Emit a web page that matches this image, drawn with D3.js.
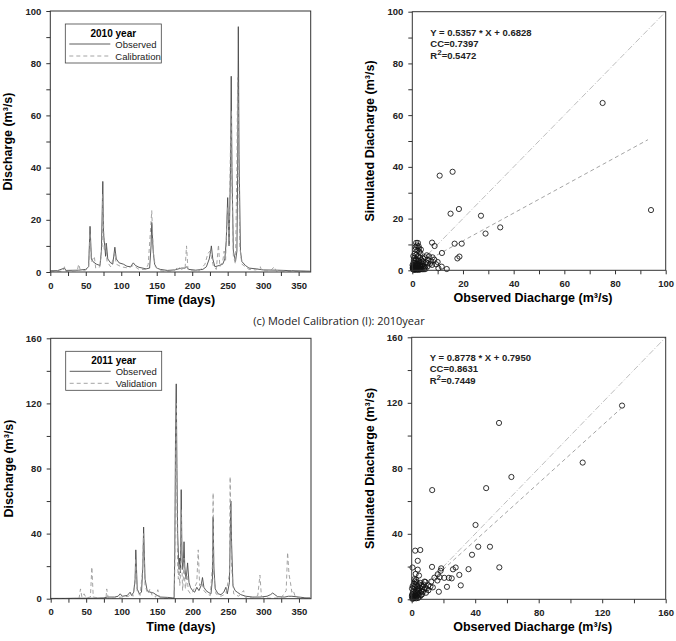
<!DOCTYPE html>
<html>
<head>
<meta charset="utf-8">
<script src="https://cdn.jsdelivr.net/npm/d3@7"></script>
<style>
  body { margin: 0; background: #fff; }
  svg { display: block; }
  text { font-family: "Liberation Sans", Arial, sans-serif; }
</style>
</head>
<body>
<svg id="chart" width="676" height="641"></svg>
<script>
// 2010 daily discharge, [day, m3/s]
var observed2010 = [[0,0.5],[10,0.5],[20,1.5],[22,0.6],[40,0.7],[50,1],[54,2],[56,17.5],[58,5],[60,4],[65,3],[70,2.5],[72,8],[74,34.7],[75,15],[76,12],[78,6],[79,11],[81,5],[85,3.5],[88,3],[91,9.5],[93,5],[97,3.5],[103,3],[108,2.2],[113,2],[117,3.5],[120,2.5],[125,1.8],[135,1.2],[140,1.5],[142,10],[143,19],[145,8],[147,3],[150,1.5],[155,1],[165,0.6],[175,0.8],[185,1.5],[190,1.5],[192,2],[195,1],[205,0.7],[215,1],[220,2],[224,5],[226,8],[227,10],[229,5],[232,2],[238,2.5],[243,3],[246,5],[248,12],[250,28.5],[252,10],[254,40],[255,75],[256,40],[258,8],[261,4],[263,8],[264,37],[265,94],[266,45],[268,8],[270,4],[275,2.5],[280,1.5],[290,1.2],[300,0.8],[320,0.7],[340,0.5],[366,0.3]];
var calibration2010 = [[0,0.3],[18,0.3],[20,2],[22,0.3],[38,0.5],[40,3],[42,1],[48,0.5],[54,1.5],[56,15],[58,4],[62,6],[64,1.5],[70,2],[73,10],[74,30],[76,8],[78,11],[80,4],[85,2],[91,7],[93,3],[100,2],[110,1.5],[117,2.5],[125,1],[135,1],[138,3],[141,15],[143,23.5],[145,8],[148,2],[155,0.5],[165,0.3],[175,0.5],[180,2],[185,1],[190,1.5],[192,10],[194,1],[200,0.5],[210,0.5],[218,3],[222,7],[225,8],[227,6],[230,2],[234,1],[237,10.5],[239,2],[243,4],[245,8],[247,4],[249,20],[250,25],[252,10],[254,50],[255,62],[256,35],[258,6],[261,3],[263,40],[264,74.5],[265,60],[267,10],[270,3],[275,2],[280,1],[290,0.8],[296,2],[298,0.5],[310,0.5],[316,2],[318,0.4],[340,0.3],[366,0.2]];

// 2011 daily discharge, [day, m3/s]
var observed2011 = [[0,0.2],[20,0.2],[40,0.3],[60,0.3],[75,0.5],[80,1],[90,1],[95,1.5],[98,3],[101,1.5],[108,2],[112,4],[114,2],[117,4],[119,12],[120,30],[122,6],[125,3],[128,4],[130,20],[131,44],[133,12],[136,5],[140,4],[145,3.5],[150,2],[155,1],[165,0.8],[172,0.5],[174,0.5],[175,30],[176,100],[177,132],[178,80],[179,40],[180,28],[181,18],[182,25],[183,16],[184,67],[185,30],[186,18],[187,22],[188,35],[189,20],[190,15],[191,12],[193,22],[195,10],[197,7],[200,5],[203,4],[206,7],[209,5],[212,8],[214,13],[216,7],[219,5],[222,4],[226,3],[228,12],[229,50],[230,20],[232,6],[236,3],[240,2.5],[244,4],[247,7],[249,3],[252,10],[254,60],[255,35],[257,8],[260,5],[263,4],[268,2.5],[275,1.5],[285,1],[295,1],[305,1.5],[310,2.5],[313,3.5],[316,2.5],[320,1.2],[330,1],[335,1.5],[340,1.5],[350,1],[360,0.5],[366,0.5]];
var validation2011 = [[0,0],[40,0.2],[42,6],[44,1],[47,3],[50,0.5],[56,1],[58,19.5],[60,1],[70,0.3],[78,0.5],[79,6],[81,0.5],[90,0.5],[100,1],[110,1.5],[113,3],[116,1.5],[119,10],[120,25],[122,4],[126,2],[129,15],[131,40],[133,8],[137,3],[140,6],[143,2],[148,1],[151,5.5],[153,1],[160,0.3],[170,0.2],[174,0.2],[175,20],[176,80],[177,120],[178,60],[179,20],[180,12],[181,22],[182,8],[183,15],[184,55],[185,20],[186,5],[187,12],[188,25],[189,10],[190,6],[192,15],[194,5],[197,3],[200,4],[203,7],[206,10],[208,30],[210,8],[213,10],[216,5],[220,3],[225,2],[228,20],[229,65],[230,15],[233,3],[240,1.5],[247,3],[252,15],[253,75],[255,20],[258,3],[265,1.5],[272,5],[274,1],[285,0.5],[292,2],[295,14.5],[297,2],[300,0.5],[310,0.3],[325,0.5],[332,5],[334,28.5],[336,15],[338,10],[340,4],[342,5],[345,1],[355,0.5],[366,0.3]];

// scatter, [observed, simulated]
var scatter2010 = [[94.2,23.3],[75.1,64.7],[10.8,36.6],[15.9,38.1],[15.1,21.9],[18.4,23.7],[27.1,21.1],[28.9,14.2],[34.7,16.6],[16.7,10.3],[19.5,10.3],[11.7,6.7],[17.8,4.6],[18.6,5.3],[7.8,10.7],[8.8,9.4],[13.6,0.5],[11.6,1.4],[10,3.2],[8.7,4.1],[6.6,5.4],[5.7,5.8],[9.4,2.3],[10.3,0.8],[4.3,4.5],[7.8,2.1],[6.2,2.7],[4.9,1.4],
  [1.5,10.6],[2.2,10.6],[1.8,9.6],[2.5,9.3],[1.2,8],[2,7.6],[2.8,7.2],[1,6.5],[1.6,6],[2.3,5.5],[3,5],[0.8,4.8],[1.4,4.2],[2.1,4],[2.6,3.6],[3.4,3.2],[0.5,3],[1.1,2.8],[1.9,2.5],[2.4,2.2],[3.1,2],[3.8,1.8],[4.4,1.5],[0.3,1.5],[0.6,1.2],[0.9,1],[1.3,0.9],[1.7,0.8],[2.2,0.7],[2.7,0.6],[3.3,0.5],[3.9,0.4],[4.6,0.4],[5.2,0.5],[0.2,0.6],[0.4,0.3],[0.7,0.2],[1,0.3],[1.5,0.2],[2,0.3],[2.5,0.2],[3,0.3],[0.1,2],[0.5,2.2],[1,1.8],[1.5,1.5],[2,1.2],[2.5,1],[3.5,1.2],[4,2.5],[4.8,1],[5.5,3],[6,1.5],[0.3,0.9],[0.8,0.6],[1.2,0.5],[1.7,1.9],[2.9,2.8],[3.6,4],[4.2,3.5],[5,5],[6.2,4],[7,2.5],[7.5,3.5],[8,5],[3.2,6.5],[2.6,8.5],[1.3,9],[3.4,8],[3,1.5],[2.3,1.6],[1.1,3.6],[0.6,4],[0.4,5.5],[0.2,1.1]];
var scatter2011 = [[132.5,118.3],[107.7,83.5],[55,107.7],[12.9,66.7],[46.9,67.9],[62.8,74.7],[40.2,45.4],[41.9,32.1],[49.3,32.1],[38,27.2],[55.2,19.5],[35.8,18.4],[30.9,8.5],[30,14.9],[27.7,19.4],[26,18.3],[25.2,12.8],[22.2,7.6],[23.4,13.1],[18.6,18.9],[18.2,17.4],[12.8,19.8],[17.1,4.6],[16.4,15.3],[14.3,13.2],[16.2,11.5],[17.6,13.5],[20.5,13.1],[12.3,10.8],[11.8,7.8],[8.6,10.6],[8.6,7.2],[10.5,5.5],[13.3,7.3],[6.9,7.7],[8,10.8],[2.2,29.7],[5.4,30.1],[3.8,23.5],[3.8,18.1],[0.5,19.4],[2.5,15.5],[4.6,14.5],[1.7,12.3],
  [0.5,1],[1,0.5],[1.5,2],[2,1],[2.5,3],[3,2],[3.5,4],[4,3],[4.5,5],[5,4],[0.3,3],[0.8,4.5],[1.2,6],[1.8,7.5],[2.4,9],[3,10.5],[3.6,8],[4.2,6.5],[5.2,7],[6,5],[6.5,3],[7,4.5],[7.8,6],[9,4],[0.2,6.5],[0.6,8],[1.4,9.5],[2,11],[2.8,12],[3.4,6],[4.8,9],[5.5,10],[6.2,8.5],[7.5,9],[0.4,0.3],[1,1.5],[1.6,0.8],[2.2,2.2],[2.8,0.6],[3.2,1.4],[4,0.8],[5,1.5],[5.8,2.5],[0.1,2],[0.7,2.5],[1.3,3.5],[2.6,4.5],[3.8,5.5],[9.5,6.5],[10.5,8.5]];

var fit2010 = { slope: 0.5357, intercept: 0.6828, xEnd: 93 };
var fit2011 = { slope: 0.8778, intercept: 0.7950, xEnd: 132 };
var stats2010 = ["Y = 0.5357 * X + 0.6828", "CC=0.7397", "0.5472"];
var stats2011 = ["Y = 0.8778 * X + 0.7950", "CC=0.8631", "0.7449"];

var svg = d3.select("#chart");
var axisColor = "#333";

var drawFrame = function(g, x, y, opt) {
    var w = x.range()[1] - x.range()[0];
    var h = y.range()[0] - y.range()[1];

    // minor ticks first, then labelled ones
    g.append("g").attr("transform", "translate(0," + h + ")")
        .call(d3.axisBottom(x).tickValues(opt.xMinor).tickSize(4).tickFormat(""));
    g.append("g").call(d3.axisLeft(y).tickValues(opt.yMinor).tickSize(4).tickFormat(""));
    g.append("g").attr("transform", "translate(0," + h + ")")
        .call(d3.axisBottom(x).tickValues(opt.xMajor).tickSize(4).tickPadding(6));
    g.append("g")
        .call(d3.axisLeft(y).tickValues(opt.yMajor).tickSize(4).tickPadding(5));

    g.selectAll(".domain").remove();
    g.selectAll(".tick line").attr("stroke", axisColor);
    g.selectAll(".tick text")
        .attr("fill", "#222")
        .style("font-size", "9.5px")
        .style("font-weight", "bold");

    g.append("rect")
        .attr("width", w).attr("height", h)
        .attr("fill", "none").attr("stroke", axisColor).attr("stroke-width", 1);

    g.append("text")
        .attr("x", w / 2 + (opt.xTitleShift || 0)).attr("y", h + opt.xTitleY)
        .attr("text-anchor", "middle")
        .style("font-size", "12.5px").style("font-weight", "bold")
        .text(opt.xTitle);
    g.append("text")
        .attr("transform", "translate(" + opt.yTitleX + "," + (h / 2) + ") rotate(-90)")
        .attr("text-anchor", "middle")
        .style("font-size", "12.5px").style("font-weight", "bold")
        .text(opt.yTitle);
}

var timePanel = function(left, top, right, bottom, yMax, yStep, obs, sim, year, simName) {
    var x = d3.scaleLinear().domain([0, 367]).range([0, right - left]);
    var y = d3.scaleLinear().domain([0, yMax]).range([bottom - top, 0]);
    var g = svg.append("g").attr("transform", "translate(" + left + "," + top + ")");

    var line = d3.line()
        .x(function(d) { return x(d[0]); })
        .y(function(d) { return y(d[1]); });

    g.append("path").datum(obs).attr("d", line)
        .attr("fill", "none").attr("stroke", "#4a4a4a").attr("stroke-width", 0.9);
    g.append("path").datum(sim).attr("d", line)
        .attr("fill", "none").attr("stroke", "#9a9a9a").attr("stroke-width", 0.9)
        .attr("stroke-dasharray", "4,3");

    drawFrame(g, x, y, {
        xMajor: d3.range(0, 351, 50),
        xMinor: d3.range(25, 351, 50),
        yMajor: d3.range(0, yMax + 1, yStep),
        yMinor: d3.range(yStep / 2, yMax, yStep),
        xTitle: "Time (days)", xTitleY: 32,
        yTitle: "Discharge (m\u00b3/s)", yTitleX: -38
    });

    // legend
    var lg = g.append("g").attr("transform", "translate(15,13)");
    lg.append("rect").attr("width", 96).attr("height", 39)
        .attr("fill", "#fff").attr("stroke", "#444").attr("stroke-width", 0.8);
    lg.append("text").attr("x", 48).attr("y", 13).attr("text-anchor", "middle")
        .style("font-size", "10px").style("font-weight", "bold").text(year + " year");
    var rows = [["Observed", "#4a4a4a", null], [simName, "#9a9a9a", "4,3"]];
    rows.forEach(function(r, i) {
        var yy = 20 + i * 12;
        lg.append("line").attr("x1", 4).attr("x2", 45).attr("y1", yy).attr("y2", yy)
            .attr("stroke", r[1]).attr("stroke-width", 0.9)
            .attr("stroke-dasharray", r[2]);
        lg.append("text").attr("x", 50).attr("y", yy + 3.5)
            .style("font-size", "9.5px").attr("fill", "#222").text(r[0]);
    });
}

var scatterPanel = function(left, top, right, bottom, maxV, step, pts, fit, stats) {
    var x = d3.scaleLinear().domain([0, maxV]).range([0, right - left]);
    var y = d3.scaleLinear().domain([0, maxV]).range([bottom - top, 0]);
    var g = svg.append("g").attr("transform", "translate(" + left + "," + top + ")");

    g.append("line")
        .attr("x1", x(0)).attr("y1", y(0)).attr("x2", x(maxV)).attr("y2", y(maxV))
        .attr("stroke", "#b5b5b5").attr("stroke-width", 0.9)
        .attr("stroke-dasharray", "6,2,1,2");
    g.append("line")
        .attr("x1", x(0)).attr("y1", y(fit.intercept))
        .attr("x2", x(fit.xEnd)).attr("y2", y(fit.slope * fit.xEnd + fit.intercept))
        .attr("stroke", "#9a9a9a").attr("stroke-width", 0.9)
        .attr("stroke-dasharray", "4,3");

    g.selectAll("circle").data(pts).enter().append("circle")
        .attr("cx", function(d) { return x(d[0]); })
        .attr("cy", function(d) { return y(d[1]); })
        .attr("r", 2.6)
        .attr("fill", "none").attr("stroke", "#111").attr("stroke-width", 0.85);

    drawFrame(g, x, y, {
        xMajor: d3.range(0, maxV + 1, step),
        xMinor: d3.range(step / 2, maxV, step),
        yMajor: d3.range(0, maxV + 1, step),
        yMinor: d3.range(step / 2, maxV, step),
        xTitle: "Observed Diacharge (m\u00b3/s)", xTitleY: 32, xTitleShift: -6,
        yTitle: "Simulated Diacharge (m\u00b3/s)", yTitleX: -38
    });

    var st = g.append("g").attr("transform", "translate(18,0)")
        .style("font-size", "9.5px").style("font-weight", "bold").attr("fill", "#222");
    st.append("text").attr("y", 24).text(stats[0]);
    st.append("text").attr("y", 35).text(stats[1]);
    var r2 = st.append("text").attr("y", 47).text("R");
    r2.append("tspan").attr("dy", -4).style("font-size", "8px").text("2");
    r2.append("tspan").attr("dy", 4).text("=" + stats[2]);
}

timePanel(50.3, 11, 310.7, 272, 100, 20, observed2010, calibration2010, 2010, "Calibration");
scatterPanel(412.3, 11.7, 665.7, 270.3, 100, 20, scatter2010, fit2010, stats2010);
timePanel(50.7, 338.3, 311, 598.7, 160, 40, observed2011, validation2011, 2011, "Validation");
scatterPanel(411.7, 337.3, 665.7, 599.3, 160, 40, scatter2011, fit2011, stats2011);

svg.append("text")
    .attr("x", 339).attr("y", 325)
    .attr("text-anchor", "middle")
    .style("font-family", "'Open Sans', 'Noto Sans', sans-serif")
    .style("font-size", "11px").attr("fill", "#222")
    .text("(c) Model Calibration (I): 2010year");
</script>
</body>
</html>
